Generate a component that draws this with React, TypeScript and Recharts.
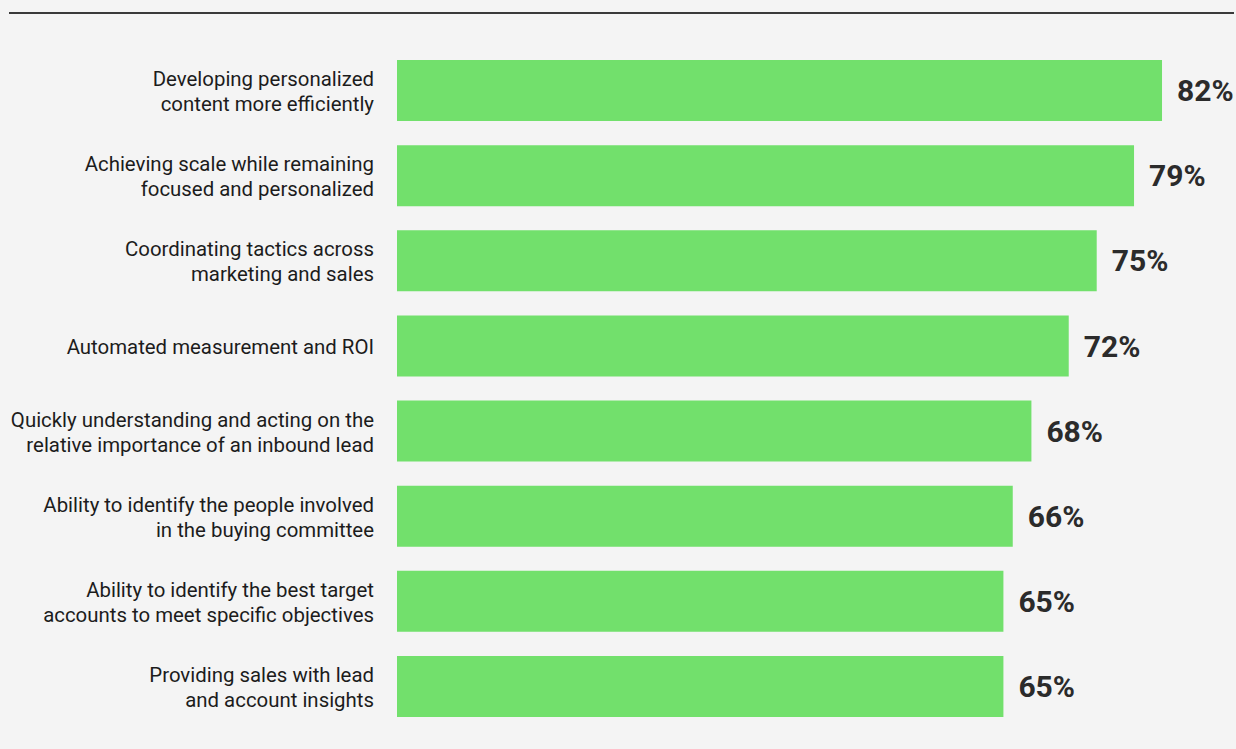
import { BarChart, Bar, XAxis, YAxis, LabelList } from "recharts";

const categories = [
  "Developing personalized\ncontent more efficiently",
  "Achieving scale while remaining\nfocused and personalized",
  "Coordinating tactics across\nmarketing and sales",
  "Automated measurement and ROI",
  "Quickly understanding and acting on the\nrelative importance of an inbound lead",
  "Ability to identify the people involved\nin the buying committee",
  "Ability to identify the best target\naccounts to meet specific objectives",
  "Providing sales with lead\nand account insights",
];

const values = [82, 79, 75, 72, 68, 66, 65, 65];

const data = categories.map((c, i) => ({ name: c, value: values[i] }));

const FONT = "Roboto, 'Noto Sans', sans-serif";

function CategoryTick(props: any) {
  const { x, y, payload } = props;
  const lines = String(payload.value).split("\n");
  const lh = 25;
  const start = y + 1 - ((lines.length - 1) * lh) / 2;
  return (
    <text
      x={x}
      y={start}
      textAnchor="end"
      fill="#1c1c1c"
      fontSize={20.4}
      fontFamily={FONT}
      dominantBaseline="central"
    >
      {lines.map((l, i) => (
        <tspan key={i} x={x} y={start + i * lh} dominantBaseline="central">
          {l}
        </tspan>
      ))}
    </text>
  );
}

export default function App() {
  return (
    <div
      style={{
        position: "fixed",
        left: 0,
        top: 0,
        width: 1236,
        height: 749,
        background: "#f4f4f4",
        overflow: "hidden",
      }}
    >
      <div
        style={{
          position: "absolute",
          left: 9,
          right: 2,
          top: 12,
          height: 2,
          background: "#3a3a3a",
        }}
      />
      <BarChart
        width={1236}
        height={749}
        data={data}
        layout="vertical"
        margin={{ top: 48, right: 18, bottom: 20, left: 0 }}
        barSize={61}
      >
        <XAxis type="number" domain={[0, 88]} hide />
        <YAxis
          type="category"
          dataKey="name"
          width={397}
          axisLine={false}
          tickLine={false}
          tickSize={0}
          tickMargin={23}
          interval={0}
          tick={<CategoryTick />}
        />
        <Bar dataKey="value" fill="#72e06c" isAnimationActive={false}>
          <LabelList
            dataKey="value"
            position="right"
            offset={15}
            formatter={(v: any) => `${v}%`}
            style={{
              fontFamily: FONT,
              fontSize: 30,
              fontWeight: 700,
              fill: "#2b2b2b",
            }}
          />
        </Bar>
      </BarChart>
    </div>
  );
}
